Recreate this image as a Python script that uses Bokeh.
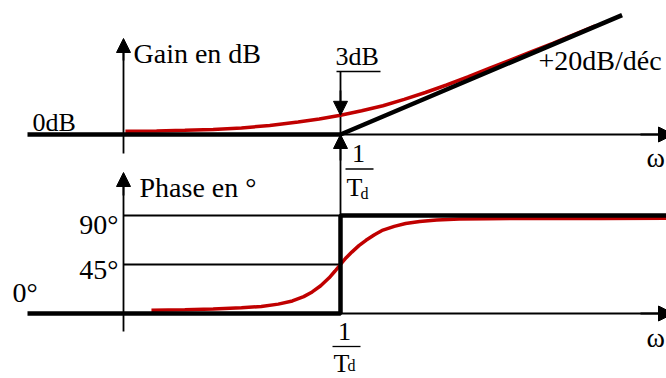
from bokeh.plotting import figure
from bokeh.models import Range1d, Label, Arrow, NormalHead
from bokeh.embed import file_html
from bokeh.resources import INLINE

# ---------------- data (u = log10(omega * Td), in decades) ----------------
# real gain curve (red), dB
u_gain = [-0.76, -0.65, -0.55, -0.45, -0.35, -0.25, -0.15, -0.075, 0.0, 0.075, 0.15,
          0.225, 0.3, 0.375, 0.45, 0.525, 0.6, 0.675, 0.75, 0.825, 0.9]
gain_db = [0.55, 0.6, 0.7, 0.85, 1.1, 1.5, 2.1, 2.6, 3.2, 3.95, 4.8,
           5.85, 7.0, 8.25, 9.6, 11.0, 12.4, 13.8, 15.2, 16.65, 18.1]
# gain asymptotes (black): 0 dB then +20 dB/dec
asym_gain_u = [-1.106, 0.0, 0.995]
asym_gain_db = [0.0, 0.0, 19.9]

# real phase curve (red), degrees
u_phase = [-0.668, -0.55, -0.45, -0.35, -0.28, -0.22, -0.17, -0.13, -0.10, -0.07,
           -0.04, -0.02, 0.0, 0.02, 0.04, 0.065, 0.09, 0.12, 0.15, 0.19, 0.23,
           0.28, 0.34, 0.42, 0.52, 0.7, 0.92, 1.152]
phase_deg = [3.0, 3.5, 4.2, 5.2, 6.5, 8.6, 11.5, 15.5, 19.8, 25.5,
             32.8, 38.8, 45.0, 51.2, 56.4, 62.3, 67.2, 72.3, 76.6, 80.0, 82.6,
             84.4, 85.8, 86.7, 87.1, 87.3, 87.3, 87.5]
# phase asymptotes (black): 0 deg then 90 deg
asym_phase_u = [-1.106, 0.0, 0.0, 1.2]
asym_phase_deg = [0.0, 0.0, 90.0, 90.0]

# tick labels
phase_ticks = [90, 45]
phase_tick_labels = ["90°", "45°"]

# ---------------- layout (pixels of the 666x378 canvas) ----------------
W, H = 666, 378
X0 = 340.0          # pixel x of 1/Td
PX_DEC = 283.0      # pixels per decade
YG0 = 134.0         # pixel y of 0 dB
PX_DB = 6.0         # pixels per dB
YP0 = 313.0         # pixel y of 0 deg
PX_DEG = 98.0 / 90  # pixels per degree
LBL_DY = 8.0        # label baseline correction


def xd(px):
    return (px - X0) / PX_DEC


def gd(py):
    return (YG0 - py) / PX_DB


def pd(py):
    return (YP0 - py) / PX_DEG


p = figure(width=W, height=H,
           x_range=Range1d(xd(0), xd(W)),
           y_range=Range1d(gd(H), gd(0)),
           output_backend="svg", toolbar_location=None,
           x_axis_type=None, y_axis_type=None,
           min_border=0, outline_line_color=None,
           background_fill_color="white", border_fill_color="white")
p.extra_y_ranges = {"phase": Range1d(pd(H), pd(0))}

BLACK = "black"
RED = "#C00000"
FONT = "Liberation Serif"
THIN = 1.8
THICK = 4.5


def head(size=14):
    return NormalHead(size=size, fill_color=BLACK, line_color=BLACK, line_width=1)


# ---------- gain panel ----------
p.line([xd(123), xd(123)], [gd(153), gd(52)], line_color=BLACK, line_width=THIN)
p.add_layout(Arrow(end=head(), x_start=xd(123), y_start=gd(60), x_end=xd(123), y_end=gd(38),
                   line_color=BLACK, line_width=THIN))
p.line([0.0, xd(660)], [0.0, 0.0], line_color=BLACK, line_width=THIN)
p.add_layout(Arrow(end=head(15), x_start=xd(640), y_start=0.0, x_end=xd(673), y_end=0.0,
                   line_color=BLACK, line_width=THIN))
p.line([0.0, 0.0], [gd(71), gd(YP0)], line_color=BLACK, line_width=THIN)
p.line([xd(336), xd(380)], [gd(71), gd(71)], line_color=BLACK, line_width=1.5)
p.line(u_gain, gain_db, line_color=RED, line_width=3.5)
p.line(asym_gain_u, asym_gain_db, line_color=BLACK, line_width=THICK)
g_at_corner = gain_db[u_gain.index(0.0)]
p.add_layout(Arrow(end=head(14), x_start=0.0, y_start=gd(90), x_end=0.0, y_end=g_at_corner,
                   line_color=BLACK, line_width=THIN))
p.add_layout(Arrow(end=head(14), x_start=0.0, y_start=gd(160), x_end=0.0, y_end=0.0,
                   line_color=BLACK, line_width=THIN))

# ---------- phase panel ----------
p.line([xd(123), xd(123)], [pd(331), pd(185)], line_color=BLACK, line_width=THIN,
       y_range_name="phase")
p.add_layout(Arrow(end=head(), x_start=xd(123), y_start=pd(195), x_end=xd(123), y_end=pd(172),
                   line_color=BLACK, line_width=THIN, y_range_name="phase"))
for t in phase_ticks:
    p.line([xd(123), 0.0], [t, t], line_color=BLACK, line_width=THIN, y_range_name="phase")
p.line([0.0, xd(660)], [0.0, 0.0], line_color=BLACK, line_width=THIN, y_range_name="phase")
p.add_layout(Arrow(end=head(15), x_start=xd(640), y_start=0.0, x_end=xd(673), y_end=0.0,
                   line_color=BLACK, line_width=THIN, y_range_name="phase"))
p.line(u_phase, phase_deg, line_color=RED, line_width=3.5, y_range_name="phase")
p.line(asym_phase_u, asym_phase_deg, line_color=BLACK, line_width=THICK,
       y_range_name="phase")


# ---------- texts ----------
def label(txt, px, py, size="28px", align="left", rn="default"):
    conv = pd if rn == "phase" else gd
    p.add_layout(Label(text=txt, x=xd(px), y=conv(py - LBL_DY), text_font=FONT,
                       text_font_size=size, text_color=BLACK, text_align=align,
                       text_baseline="alphabetic", y_range_name=rn))


label("Gain en dB", 133, 61)
label("0dB", 32, 130, size="26px")
label("3dB", 335, 64, size="26px")
label("+20dB/déc", 538, 68)
label("ω", 646, 165)

# fraction 1/Td (upper)
label("1", 358, 161, size="26px", align="center")
p.line([xd(345), xd(373)], [gd(168.5), gd(168.5)], line_color=BLACK, line_width=1.3)
label("T", 346, 195, size="26px")
label("d", 360, 201, size="16px")

label("Phase en °", 139, 195, rn="phase")
label(phase_tick_labels[0], 118, 232, align="right", rn="phase")
label(phase_tick_labels[1], 118, 277, align="right", rn="phase")
label("0°", 12, 300, rn="phase")
label("ω", 646, 345, rn="phase")

# fraction 1/Td (lower)
label("1", 344, 339, size="26px", align="center", rn="phase")
p.line([xd(332), xd(360)], [pd(346), pd(346)], line_color=BLACK, line_width=1.3,
       y_range_name="phase")
label("T", 333, 371, size="26px", rn="phase")
label("d", 347, 373, size="16px", rn="phase")

open("out.html", "w").write(file_html(p, INLINE))
